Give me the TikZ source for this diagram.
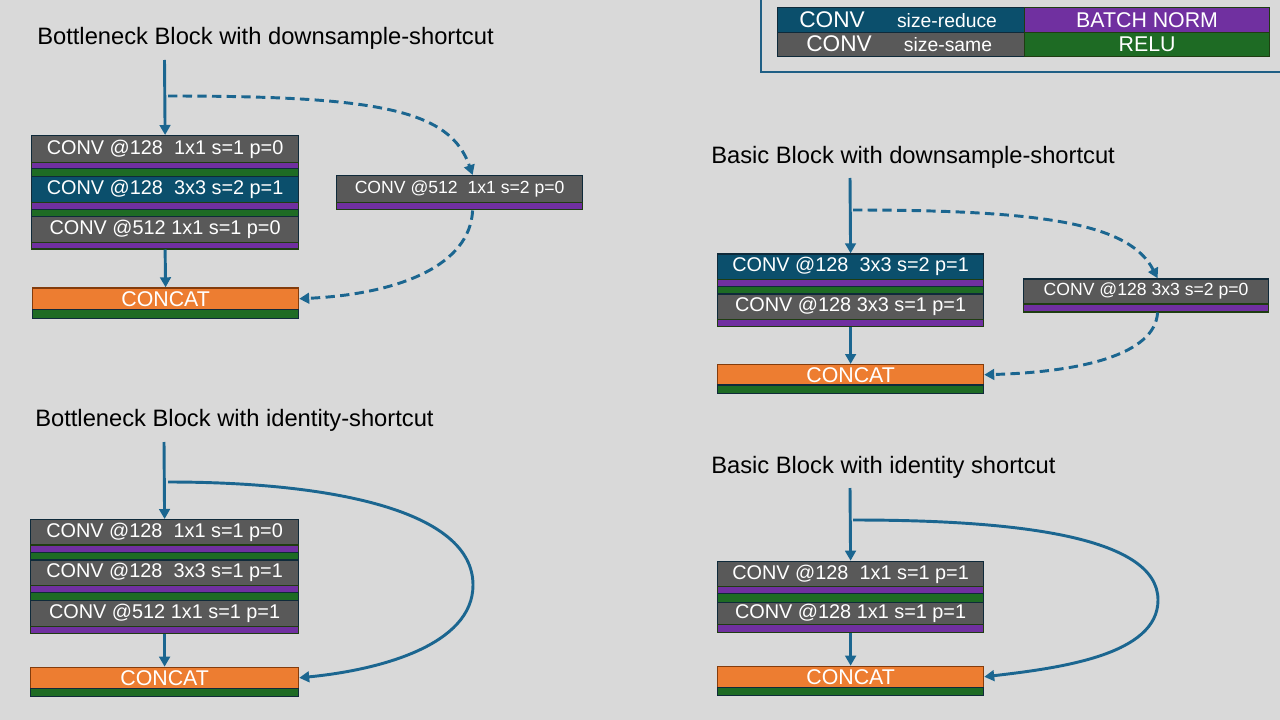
\documentclass[tikz,border=0pt]{standalone}
\usepackage{fontspec}
\setmainfont{Liberation Sans}
\usetikzlibrary{arrows.meta,calc}
\definecolor{bg}{HTML}{D9D9D9}
\definecolor{cgray}{HTML}{595959}
\definecolor{cteal}{HTML}{0B4F6C}
\definecolor{cpurp}{HTML}{7030A0}
\definecolor{cgreen}{HTML}{1E6B24}
\definecolor{corange}{HTML}{ED7D31}
\definecolor{cbord}{HTML}{0F2A3A}
\definecolor{gbord}{HTML}{1F3D12}
\definecolor{obord}{HTML}{843C0C}
\definecolor{carrow}{HTML}{1B6690}
\definecolor{legb}{HTML}{1F5F85}
\newcommand\myconvfont{\fontsize{14.9}{16}\selectfont}
\newcommand\mysidefont{\fontsize{13.2}{15}\selectfont}
\newcommand\mycatfont{\fontsize{16}{18}\selectfont}
\newcommand\myttlfont{\fontsize{17.8}{20}\selectfont}
\newcommand\mylgbig{\fontsize{17}{19}\selectfont}
\newcommand\mylgsmall{\fontsize{14.5}{16}\selectfont}
\newcommand\mylgmid{\fontsize{16}{18}\selectfont}
\begin{document}
\begin{tikzpicture}[x=0.75pt,y=-0.75pt,
 bx/.style n args={2}{anchor=north west, inner sep=0pt, minimum width=#1*0.75pt, minimum height=#2*0.75pt, line width=0.9pt},
 convg/.style={draw=cbord, fill=cgray, text=white, font=\myconvfont},
 convt/.style={draw=cbord, fill=cteal, text=white, font=\myconvfont},
 bnbar/.style={draw=gbord, fill=cpurp},
 relubar/.style={draw=cbord, fill=cgreen},
 catbox/.style={draw=obord, fill=corange, text=white, font=\mycatfont},
 arr/.style={draw=carrow, line width=2.2pt, -{Triangle[length=7.5pt,width=8pt]}},
 dsh/.style={arr, dash pattern=on 7pt off 4pt},
 ttl/.style={anchor=west, font=\myttlfont, inner sep=0pt},
 lgt/.style={text=white, inner sep=0pt}]
\fill[bg] (0,0) rectangle (1280,720);
\useasboundingbox (0,0) rectangle (1280,720);

% ---------- legend ----------
\draw[legb, line width=1.5pt] (761,-5) -- (761,72) -- (1290,72);
\node[bx={247}{25}, draw=cbord, fill=cteal] (lg1) at (777,7) {};
\node[bx={247}{24}, draw=cbord, fill=cgray] (lg2) at (777,32) {};
\node[bx={245}{25}, draw=gbord, fill=cpurp] (lg3) at (1024,7) {};
\node[bx={245}{24}, draw=gbord, fill=cgreen] (lg4) at (1024,32) {};
\node[lgt, font=\mylgbig] (lgt1) at (832,19.5) {CONV};
\node[lgt, font=\mylgsmall] (lgt2) at (947,20.5) {size-reduce};
\node[lgt, font=\mylgbig] (lgt3) at (839,44) {CONV};
\node[lgt, font=\mylgsmall] (lgt4) at (948,45) {size-same};
\node[lgt, font=\mylgmid] (lgt5) at (lg3) {BATCH NORM};
\node[lgt, font=\mylgmid] (lgt6) at (lg4) {RELU};

% ---------- Bottleneck with downsample ----------
\node[ttl] (t1) at (37,38) {Bottleneck Block with downsample-shortcut};
\coordinate (in1) at (164.5,60);
\coordinate (tap1) at (168,96);
\node[bx={267}{26.7}, convg] (a1) at (31,135) {CONV @128~ 1x1 s=1 p=0};
\node[bx={267}{6.6}, bnbar] (a1b) at (31,161.7) {};
\node[bx={267}{7.7}, relubar] (a1r) at (31,168.3) {};
\node[bx={267}{25.7}, convt] (a2) at (31,176) {CONV @128~ 3x3 s=2 p=1};
\node[bx={267}{7}, bnbar] (a2b) at (31,201.7) {};
\node[bx={267}{7.3}, relubar] (a2r) at (31,208.7) {};
\node[bx={267}{26.3}, convg] (a3) at (31,216) {CONV @512 1x1 s=1 p=0};
\node[bx={267}{6}, bnbar] (a3b) at (31,242.3) {};
\node[bx={266}{21.7}, catbox] (acat) at (32,287.3) {CONCAT};
\node[bx={266}{9}, relubar] (acatr) at (32,309) {};
\node[bx={246}{27.3}, convg, font=\mysidefont] (aside) at (336,175) {CONV @512~ 1x1 s=2 p=0};
\node[bx={246}{7}, bnbar] (asideb) at (336,202.3) {};
\draw[arr] (in1) -- (a1.north);
\draw[arr] (a3b.south) -- (acat.north);
\draw[dsh] (tap1) .. controls (380,96) and (450,110) .. ($(aside.north)+(13,0)$);
\draw[dsh] ($(asideb.south)+(13,0)$) .. controls (470,265) and (400,294) .. (acat.east);

% ---------- Basic with downsample ----------
\node[ttl] (t2) at (711,157) {Basic Block with downsample-shortcut};
\coordinate (in2) at (850,178);
\coordinate (tap2) at (853,210);
\node[bx={266}{25.7}, convt] (b1) at (717,253.3) {CONV @128~ 3x3 s=2 p=1};
\node[bx={266}{6.7}, bnbar] (b1b) at (717,279) {};
\node[bx={266}{7.6}, relubar] (b1r) at (717,285.7) {};
\node[bx={266}{25.7}, convg] (b2) at (717,293.3) {CONV @128 3x3 s=1 p=1};
\node[bx={266}{7}, bnbar] (b2b) at (717,319) {};
\node[bx={266}{20.3}, catbox] (bcat) at (717,364) {CONCAT};
\node[bx={266}{8.4}, relubar] (bcatr) at (717,384.3) {};
\node[bx={245}{25}, convg, font=\mysidefont] (bside) at (1023,278.3) {CONV @128 3x3 s=2 p=0};
\node[bx={245}{8}, bnbar] (bsideb) at (1023,303.3) {};
\draw[arr] (in2) -- (b1.north);
\draw[arr] (b2b.south) -- (bcat.north);
\draw[dsh] (tap2) .. controls (1050,210) and (1130,225) .. ($(bside.north)+(11.5,0)$);
\draw[dsh] ($(bsideb.south)+(11.5,0)$) .. controls (1155,355) and (1080,372) .. (bcat.east);

% ---------- Bottleneck with identity ----------
\node[ttl] (t3) at (35,420) {Bottleneck Block with identity-shortcut};
\coordinate (in3) at (164,442);
\coordinate (tap3) at (168,482);
\node[bx={268}{25.3}, convg] (c1) at (30,519) {CONV @128~ 1x1 s=1 p=0};
\node[bx={268}{7.7}, bnbar] (c1b) at (30,544.3) {};
\node[bx={268}{7.3}, relubar] (c1r) at (30,552) {};
\node[bx={268}{25.7}, convg] (c2) at (30,559.3) {CONV @128~ 3x3 s=1 p=1};
\node[bx={268}{7}, bnbar] (c2b) at (30,585) {};
\node[bx={268}{8}, relubar] (c2r) at (30,592) {};
\node[bx={268}{26}, convg] (c3) at (30,600) {CONV @512 1x1 s=1 p=1};
\node[bx={268}{7}, bnbar] (c3b) at (30,626) {};
\node[bx={268}{21}, catbox] (ccat) at (30,666.7) {CONCAT};
\node[bx={268}{8.3}, relubar] (ccatr) at (30,687.7) {};
\draw[arr] (in3) -- (c1.north);
\draw[arr] (c3b.south) -- (ccat.north);
\draw[arr] (tap3) .. controls (330,482) and (473,510) .. (473,585) .. controls (473,645) and (380,670) .. (ccat.east);

% ---------- Basic with identity ----------
\node[ttl] (t4) at (711,467) {Basic Block with identity shortcut};
\coordinate (in4) at (850,488);
\coordinate (tap4) at (853,520);
\node[bx={266}{25.3}, convg] (d1) at (717,560.7) {CONV @128~ 1x1 s=1 p=1};
\node[bx={266}{7}, bnbar] (d1b) at (717,586) {};
\node[bx={266}{8.7}, relubar] (d1r) at (717,593) {};
\node[bx={266}{22.3}, convg] (d2) at (717,601.7) {CONV @128 1x1 s=1 p=1};
\node[bx={266}{7.7}, bnbar] (d2b) at (717,624) {};
\node[bx={266}{21}, catbox] (dcat) at (717,665.7) {CONCAT};
\node[bx={266}{8.3}, relubar] (dcatr) at (717,686.7) {};
\draw[arr] (in4) -- (d1.north);
\draw[arr] (d2b.south) -- (dcat.north);
\draw[arr] (tap4) .. controls (1010,520) and (1158,535) .. (1158,600) .. controls (1158,655) and (1060,668) .. (dcat.east);
\end{tikzpicture}
\end{document}
